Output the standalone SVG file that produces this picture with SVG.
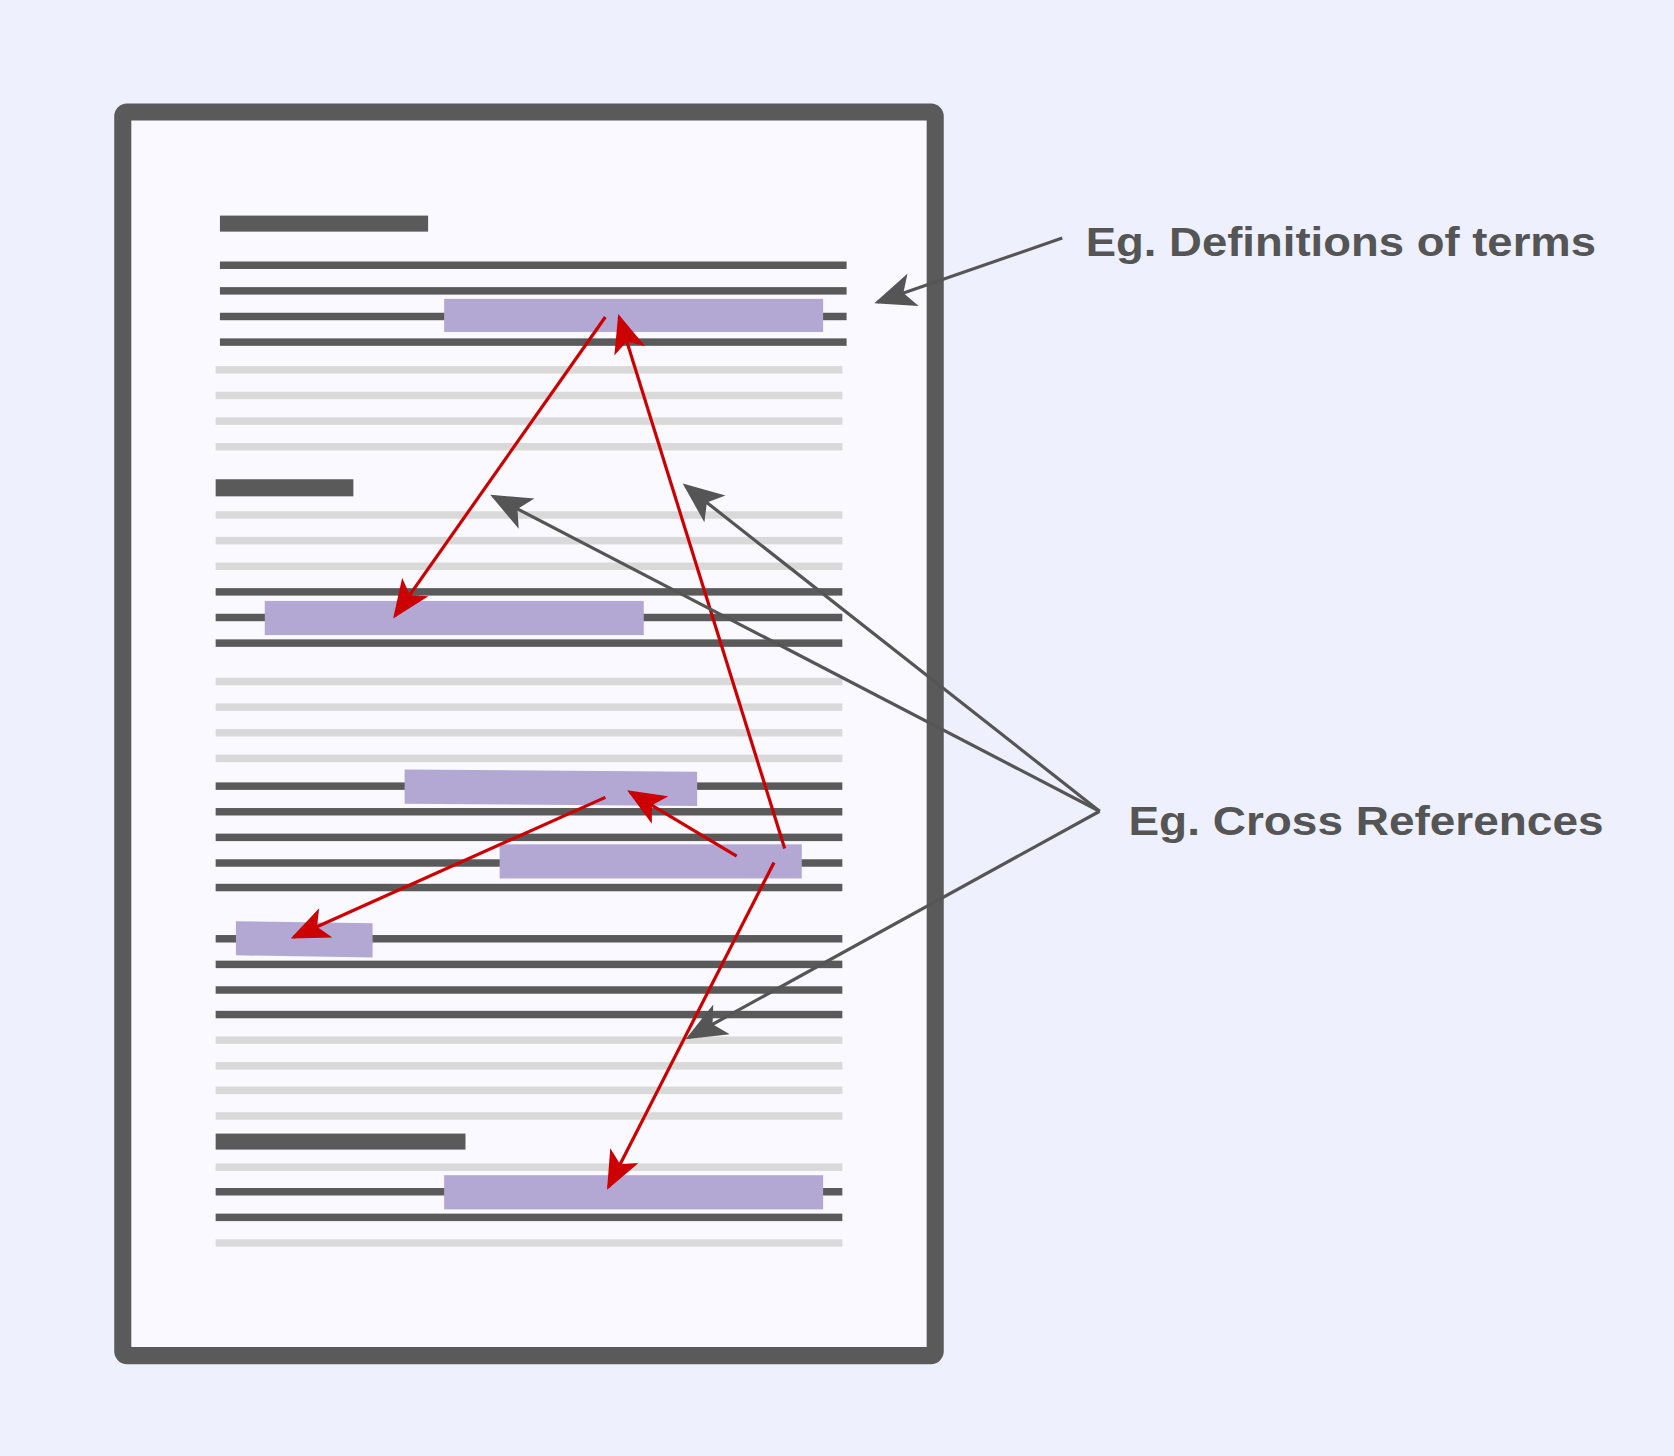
<svg xmlns="http://www.w3.org/2000/svg" width="1674" height="1456" viewBox="0 0 1674 1456">
<style>
.d{fill:#5a5a5a}.l{fill:#d9d9d9}.h{fill:#b3a7d4}
.r{stroke:#cc0000;stroke-width:3;fill:none}
.g{stroke:#555;stroke-width:3;fill:none}
.t{font-family:"Liberation Sans",Arial,sans-serif;font-weight:bold;font-size:38px;fill:#555}
</style>
<defs>
<marker id="mr" viewBox="0 0 12 10" refX="11" refY="5" markerWidth="36" markerHeight="30" markerUnits="userSpaceOnUse" orient="auto"><path d="M0,0 L12,5 L0,10 L3,5 z" fill="#cc0000"/></marker>
<marker id="mg" viewBox="0 0 12 10" refX="11" refY="5" markerWidth="40" markerHeight="32" markerUnits="userSpaceOnUse" orient="auto"><path d="M0,0 L12,5 L0,10 L3,5 z" fill="#555"/></marker>
</defs>
<rect width="1674" height="1456" fill="#eef0fe"/>
<g transform="scale(1.0676,1.0674)">
<g id="page">
<rect x="115" y="105" width="761" height="1165" rx="4" fill="#f9f9ff" stroke="#5a5a5a" stroke-width="16"/>
<rect class="d" x="206" y="202" width="195" height="15"/>
<rect class="d" x="206" y="245" width="587" height="7"/>
<rect class="d" x="206" y="269" width="587" height="7"/>
<rect class="d" x="206" y="293" width="587" height="7"/>
<rect class="d" x="206" y="317" width="587" height="7"/>
<rect class="l" x="202" y="343" width="587" height="7"/>
<rect class="l" x="202" y="367" width="587" height="7"/>
<rect class="l" x="202" y="391" width="587" height="7"/>
<rect class="l" x="202" y="415" width="587" height="7"/>
<rect class="d" x="202" y="449" width="129" height="16"/>
<rect class="l" x="202" y="479" width="587" height="7"/>
<rect class="l" x="202" y="503" width="587" height="7"/>
<rect class="l" x="202" y="527" width="587" height="7"/>
<rect class="d" x="202" y="551" width="587" height="7"/>
<rect class="d" x="202" y="575" width="587" height="7"/>
<rect class="d" x="202" y="599" width="587" height="7"/>
<rect class="l" x="202" y="635" width="587" height="7"/>
<rect class="l" x="202" y="659" width="587" height="7"/>
<rect class="l" x="202" y="683" width="587" height="7"/>
<rect class="l" x="202" y="707" width="587" height="7"/>
<rect class="d" x="202" y="733" width="587" height="7"/>
<rect class="d" x="202" y="757" width="587" height="7"/>
<rect class="d" x="202" y="781" width="587" height="7"/>
<rect class="d" x="202" y="805" width="587" height="7"/>
<rect class="d" x="202" y="828" width="587" height="7"/>
<rect class="d" x="202" y="876" width="587" height="7"/>
<rect class="d" x="202" y="900" width="587" height="7"/>
<rect class="d" x="202" y="924" width="587" height="7"/>
<rect class="d" x="202" y="947" width="587" height="7"/>
<rect class="l" x="202" y="971" width="587" height="7"/>
<rect class="l" x="202" y="995" width="587" height="7"/>
<rect class="l" x="202" y="1018" width="587" height="7"/>
<rect class="l" x="202" y="1042" width="587" height="7"/>
<rect class="d" x="202" y="1062" width="234" height="15"/>
<rect class="l" x="202" y="1090" width="587" height="7"/>
<rect class="d" x="202" y="1113" width="587" height="7"/>
<rect class="d" x="202" y="1137" width="587" height="7"/>
<rect class="l" x="202" y="1161" width="587" height="7"/>
</g>
<g id="highlights">
<rect class="h" x="416" y="280" width="355" height="31"/>
<rect class="h" x="248" y="563" width="355" height="32"/>
<polygon class="h" points="379,721 653,723 653,755 379,753"/>
<rect class="h" x="468" y="791" width="283" height="32"/>
<polygon class="h" points="221,863 349,865 349,897 221,895"/>
<rect class="h" x="416" y="1101" width="355" height="32"/>
</g>
<g id="connectors">
<path class="r" d="M567,297 L370,577" marker-end="url(#mr)"/>
<path class="r" d="M735,795 L580,297" marker-end="url(#mr)"/>
<path class="r" d="M690,802 L590,742" marker-end="url(#mr)"/>
<path class="r" d="M567,747 L275,878" marker-end="url(#mr)"/>
<path class="r" d="M725,808 L570,1112" marker-end="url(#mr)"/>
<path class="g" d="M995,223 L822,283" marker-end="url(#mg)"/>
<path class="g" d="M1030,760 L462,465" marker-end="url(#mg)"/>
<path class="g" d="M1030,760 L642,455" marker-end="url(#mg)"/>
<path class="g" d="M1030,760 L645,972" marker-end="url(#mg)"/>
</g>
<g id="labels">
<text class="t" x="1017" y="240" textLength="478" lengthAdjust="spacingAndGlyphs">Eg. Definitions of terms</text>
<text class="t" x="1057" y="782" textLength="445" lengthAdjust="spacingAndGlyphs">Eg. Cross References</text>
</g>
</g>
</svg>
